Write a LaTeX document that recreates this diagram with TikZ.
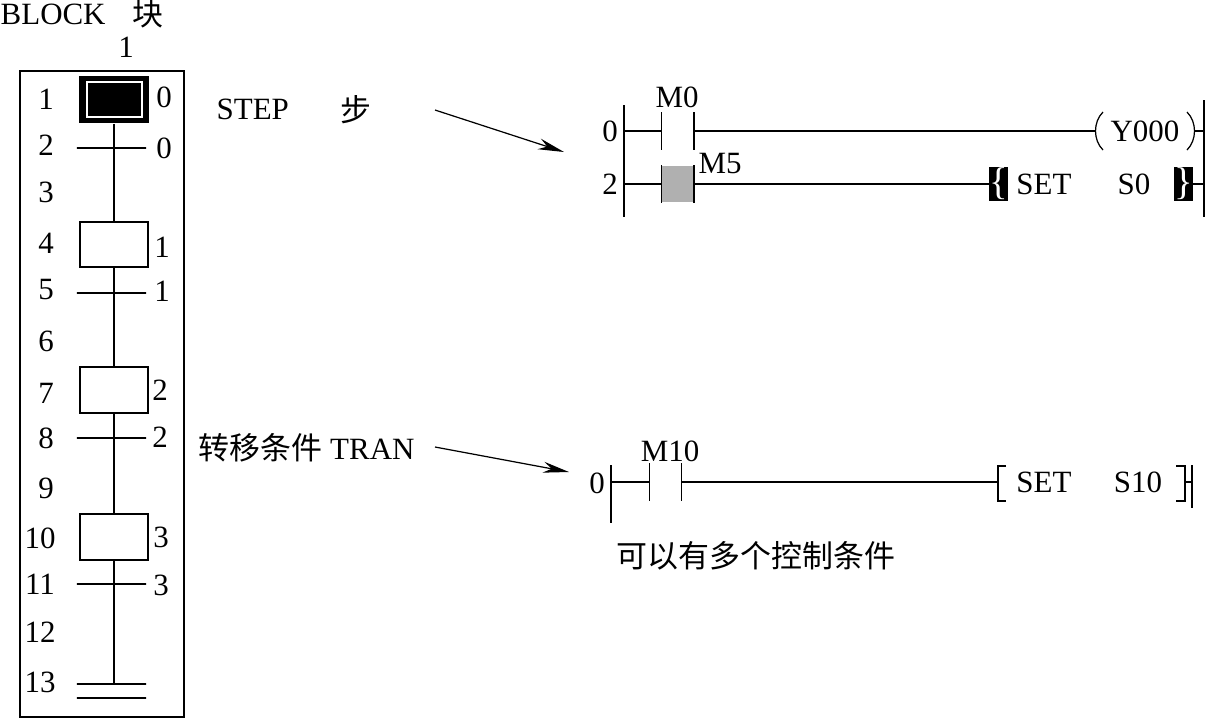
\documentclass[tikz,border=0pt]{standalone}
\usepackage{fontspec}
\setmainfont{Liberation Serif}
\newfontfamily\cjk{Noto Sans CJK SC}
\usetikzlibrary{arrows.meta}

\begin{document}
\begin{tikzpicture}
        [x=0.01cm, y=-0.01cm, inner sep=0pt,
         font=\fontsize{8.8pt}{10pt}\selectfont,
         thin line/.style={line width=0.35pt},
         rail/.style={line width=0.55pt},
         stepbox/.style={rectangle, draw, line width=0.45pt, minimum width=6.8mm, minimum height=4.55mm},
         tranbar/.style={rectangle, draw, line width=0.4pt, minimum width=6.9mm, minimum height=0mm},
         contact/.style={rectangle, minimum width=3.1mm, minimum height=3.6mm},
         setend/.style={rectangle, fill=black, text=white, minimum width=1.7mm, minimum height=3.4mm, font=\fontsize{11pt}{11pt}\selectfont},
         cn/.style={font=\fontsize{8.8pt}{10pt}\selectfont\cjk}]
        \useasboundingbox (0, 0) rectangle (1205, 720);

        % block
        \node (block)  at (0, 14)[anchor=west] {BLOCK};
        \node (blockc) at (148, 14)[cn] {块};
        \node (blockn) at (126, 47) {1};
        \node (frame)  at (102, 394)[rectangle, draw, rail, minimum width=16.4mm, minimum height=64.6mm] {};

        \node (s1)  at (114, 99.5)[rectangle, fill=black, minimum width=6.9mm, minimum height=4.75mm] {};
        \node (s1i) at (114.5, 99.5)[rectangle, draw=white, line width=0.3pt, minimum width=5.5mm, minimum height=3.5mm] {};
        \node (t1)  at (111.5, 148)[tranbar, thin line] {};
        \node (s4)  at (114, 244.5)[stepbox] {};
        \node (t5)  at (111.5, 293)[tranbar] {};
        \node (s7)  at (114, 390)[stepbox] {};
        \node (t8)  at (111.5, 438)[tranbar] {};
        \node (s10) at (114, 537)[stepbox] {};
        \node (t11) at (111.5, 584)[tranbar] {};
        \node (e1)  at (111.5, 684)[tranbar] {};
        \node (e2)  at (111.5, 698)[tranbar] {};
        \coordinate (e1c) at (114, 684);
        \draw [thin line] (s1.south) -- (s4.north);
        \draw [thin line] (s4.south) -- (s7.north);
        \draw [thin line] (s7.south) -- (s10.north);
        \draw [thin line] (s10.south) -- (e1c);

        % line numbers
        \node (n1)  at (46, 99) {1};
        \node (n2)  at (46, 145) {2};
        \node (n3)  at (46, 192) {3};
        \node (n4)  at (46, 243) {4};
        \node (n5)  at (46, 290) {5};
        \node (n6)  at (46, 341) {6};
        \node (n7)  at (46, 393) {7};
        \node (n8)  at (46, 438) {8};
        \node (n9)  at (46, 488) {9};
        \node (n10) at (40, 538) {10};
        \node (n11) at (40, 584) {11};
        \node (n12) at (40, 632) {12};
        \node (n13) at (40, 682) {13};

        \node (l1) at (164, 97) {0};
        \node (l2) at (164, 148) {0};
        \node (l3) at (162, 247) {1};
        \node (l4) at (162, 291) {1};
        \node (l5) at (160, 390) {2};
        \node (l6) at (160, 437) {2};
        \node (l7) at (161, 537) {3};
        \node (l8) at (161, 585) {3};

        % labels and arrows
        \node (step)  at (216, 109)[anchor=west] {STEP};
        \node (stepc) at (356, 110)[cn] {步};
        \node (tran)  at (198, 448)[anchor=west] {{\cjk 转移条件} TRAN};
        \node (note)  at (616, 556)[anchor=west, cn] {可以有多个控制条件};
        \coordinate (a1) at (435, 110);
        \coordinate (b1) at (564, 152);
        \coordinate (a2) at (435, 447);
        \coordinate (b2) at (569, 472);
        \draw [thin line, -{Stealth[length=2.6mm, width=1.1mm]}] (a1) -- (b1);
        \draw [thin line, -{Stealth[length=2.6mm, width=1.1mm]}] (a2) -- (b2);

        % ladder for step
        \coordinate (ra) at (624, 105);
        \coordinate (rb) at (624, 217);
        \coordinate (rc) at (1204, 100);
        \coordinate (rd) at (1204, 217);
        \coordinate (r0) at (624, 131);
        \coordinate (r2) at (624, 184);
        \coordinate (q0) at (1204, 131);
        \coordinate (q2) at (1204, 184);
        \draw [rail] (ra) -- (rb);
        \draw [rail] (rc) -- (rd);
        \node (z0) at (610, 131) {0};
        \node (z2) at (610, 184) {2};
        \node (m0) at (677.5, 131)[contact] {};
        \node (m0t) at (677, 97) {M0};
        \draw [thin line] (m0.north west) -- (m0.south west);
        \draw [rail] (m0.north east) -- (m0.south east);
        \node (m5) at (677.5, 184)[contact, fill={rgb,255:red,176;green,176;blue,176}] {};
        \node (m5t) at (720, 164) {M5};
        \draw [thin line] (m5.north west) -- (m5.south west);
        \draw [rail] (m5.north east) -- (m5.south east);
        \node (y0) at (1145, 131) {Y000};
        \coordinate (yl) at (1095.5, 131);
        \coordinate (yr) at (1194.5, 131);
        \draw [thin line] (1103, 112) .. controls (1093, 122) and (1093, 140) .. (1103, 150);
        \draw [thin line] (1187, 112) .. controls (1197, 122) and (1197, 140) .. (1187, 150);
        \node (sl) at (998.5, 184)[setend] {\{};
        \node (set0) at (1044, 184) {SET};
        \node (s0) at (1134, 184) {S0};
        \node (sr) at (1183.5, 184)[setend] {\}};
        \draw [rail] (r0) -- (m0.west);
        \draw [rail] (m0.east) -- (yl);
        \draw [rail] (yr) -- (q0);
        \draw [rail] (r2) -- (m5.west);
        \draw [rail] (m5.east) -- (sl.west);
        \draw [rail] (sr.east) -- (q2);

        % ladder for transfer
        \coordinate (ta) at (611, 465);
        \coordinate (tb) at (611, 523);
        \coordinate (tc) at (1192, 465);
        \coordinate (td) at (1192, 508);
        \coordinate (t0) at (611, 482);
        \coordinate (u0) at (1192, 482);
        \draw [rail] (ta) -- (tb);
        \draw [thin line] (tc) -- (td);
        \node (z3) at (597, 483) {0};
        \node (m10) at (665.5, 482)[contact] {};
        \node (m10t) at (670, 451) {M10};
        \draw [thin line] (m10.north west) -- (m10.south west);
        \draw [thin line] (m10.north east) -- (m10.south east);
        \coordinate (bl) at (998, 482);
        \coordinate (br) at (1185, 482);
        \draw [rail] (1006, 466) -| (bl) |- (1006, 501);
        \draw [rail] (1176, 466) -| (br) |- (1176, 501);
        \node (set1) at (1044, 482) {SET};
        \node (s10t) at (1138, 482) {S10};
        \draw [rail] (t0) -- (m10.west);
        \draw [rail] (m10.east) -- (bl);
        \draw [rail] (br) -- (u0);
    \end{tikzpicture}
\end{document}
